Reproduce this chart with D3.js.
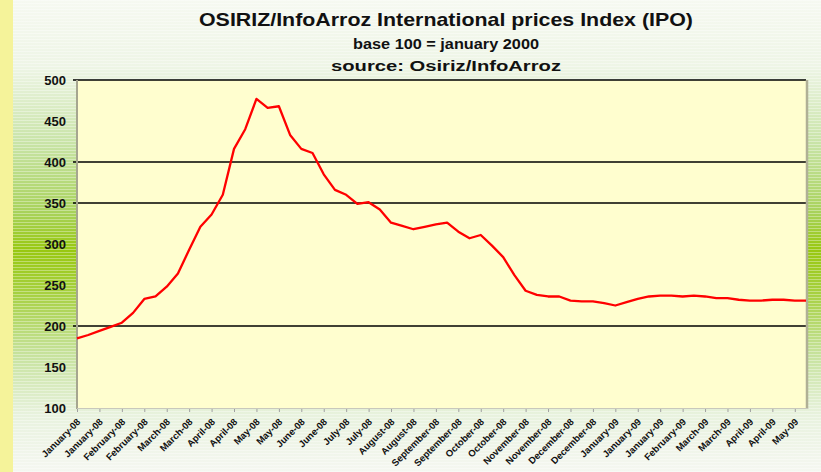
<!DOCTYPE html>
<html>
<head>
<meta charset="utf-8">
<script src="https://cdnjs.cloudflare.com/ajax/libs/d3/7.8.5/d3.min.js"></script>
<style>
  html, body { margin: 0; padding: 0; background: #fff; }
  svg { display: block; font-family: Arial, "Liberation Sans", sans-serif; }
</style>
</head>
<body>
<svg id="chart" width="821" height="472"></svg>
<script>
// one label every 2 weekly points
var tickLabels = [
  'January-08', 'January-08', 'February-08', 'February-08', 'March-08', 'March-08',
  'April-08', 'April-08', 'May-08', 'May-08', 'June-08', 'June-08',
  'July-08', 'July-08', 'August-08', 'August-08', 'September-08', 'September-08',
  'October-08', 'October-08', 'November-08', 'November-08', 'December-08', 'December-08',
  'January-09', 'January-09', 'January-09', 'February-09', 'March-09', 'March-09',
  'April-09', 'April-09', 'May-09'
];

// weekly IPO index (base 100 = january 2000)
var ipoValues = [
  185, 189, 194, 199, 204, 216, 233, 236, 248, 264,
  293, 321, 336, 360, 416, 440, 477, 466, 468, 433,
  416, 411, 385, 366, 360, 349, 351, 342, 326, 322,
  318, 321, 324, 326, 315, 307, 311, 298, 284, 262,
  243, 238, 236, 236, 231, 230, 230, 228, 225, 229,
  233, 236, 237, 237, 236, 237, 236, 234, 234, 232,
  231, 231, 232, 232, 231, 231
];

var yTicks = [100, 150, 200, 250, 300, 350, 400, 450, 500];
var gridValues = [200, 350, 400, 500];

var titleLines = [
  'OSIRIZ/InfoArroz International prices Index (IPO)',
  'base 100 = january 2000',
  'source: Osiriz/InfoArroz'
];

var ipochart = (function (d3, window, document, undefined) {

  var chart = {

    width: 821,
    height: 472,
    plot: { left: 77, right: 806, top: 80, bottom: 408 },
    svg: null,
    x: null,
    y: null,

    init: function() {
      this.svg = d3.select('#chart');
      this.x = d3.scaleLinear()
        .domain([0, ipoValues.length - 1])
        .range([this.plot.left, this.plot.right]);
      this.y = d3.scaleLinear()
        .domain([100, 500])
        .range([this.plot.bottom, this.plot.top]);

      this.drawBackground()
          .drawTitles()
          .drawPlot()
          .drawAxes()
          .drawLine();
    },

    drawBackground: function() {
      var defs = this.svg.append('defs');
      var grad = defs.append('linearGradient')
        .attr('id', 'bg-grad')
        .attr('x1', 0).attr('y1', 0).attr('x2', 0).attr('y2', 1);
      [
        [0, '#f6f9f1'], [0.14, '#eef5e6'], [0.3, '#c9e4a8'], [0.45, '#a8d25a'],
        [0.53, '#98c810'], [0.62, '#a6d040'], [0.75, '#c6e29c'], [0.88, '#e8f2de'], [1, '#f5f7f1']
      ].forEach(function(s) {
        grad.append('stop').attr('offset', s[0]).attr('stop-color', s[1]);
      });

      var pat = defs.append('pattern')
        .attr('id', 'stripes')
        .attr('width', 6).attr('height', 3)
        .attr('patternUnits', 'userSpaceOnUse');
      pat.append('rect')
        .attr('width', 6).attr('height', 1)
        .attr('fill', '#ffffff').attr('opacity', 0.35);

      this.svg.append('rect')
        .attr('width', this.width).attr('height', this.height)
        .attr('fill', 'url(#bg-grad)');
      this.svg.append('rect')
        .attr('width', this.width).attr('height', this.height)
        .attr('fill', 'url(#stripes)');
      // yellow strip on the left edge
      this.svg.append('rect')
        .attr('width', 13).attr('height', this.height)
        .attr('fill', '#f5f39a');
      return this;
    },

    drawTitles: function() {
      var specs = [
        { y: 26, size: 19, len: 494 },
        { y: 49, size: 14, len: 186 },
        { y: 71, size: 14, len: 230 }
      ];
      this.svg.append('g').attr('class', 'titles')
        .selectAll('text')
        .data(titleLines)
        .join('text')
          .attr('x', 446)
          .attr('y', function(d, i) { return specs[i].y; })
          .attr('text-anchor', 'middle')
          .attr('font-weight', 'bold')
          .attr('font-size', function(d, i) { return specs[i].size; })
          .attr('textLength', function(d, i) { return specs[i].len; })
          .attr('lengthAdjust', 'spacingAndGlyphs')
          .attr('fill', '#111')
          .text(function(d) { return d; });
      return this;
    },

    drawPlot: function() {
      var p = this.plot, y = this.y;
      this.svg.append('rect')
        .attr('x', p.left).attr('y', p.top)
        .attr('width', p.right - p.left).attr('height', p.bottom - p.top)
        .attr('fill', '#fffecf');

      this.svg.append('g').attr('class', 'grid')
        .selectAll('line')
        .data(gridValues)
        .join('line')
          .attr('x1', p.left - 4).attr('x2', p.right)
          .attr('y1', function(d) { return y(d); })
          .attr('y2', function(d) { return y(d); })
          .attr('stroke', '#000')
          .attr('stroke-width', 1.6);
      return this;
    },

    drawAxes: function() {
      var p = this.plot, x = this.x;

      var yAxis = d3.axisLeft(this.y)
        .tickValues(yTicks)
        .tickSize(0)
        .tickPadding(11)
        .tickFormat(d3.format('d'));
      var gy = this.svg.append('g')
        .attr('transform', 'translate(' + p.left + ',0)')
        .call(yAxis);
      gy.select('.domain').remove();
      gy.selectAll('text')
        .attr('font-size', 13)
        .attr('font-weight', 'bold')
        .attr('font-family', 'Arial, "Liberation Sans", sans-serif')
        .attr('fill', '#111');

      // plot borders
      this.svg.append('line')
        .attr('x1', p.left).attr('x2', p.left)
        .attr('y1', p.top).attr('y2', p.bottom + 1)
        .attr('stroke', '#a6a690').attr('stroke-width', 2);
      this.svg.append('line')
        .attr('x1', p.right + 1).attr('x2', p.right + 1)
        .attr('y1', p.top).attr('y2', p.bottom + 1)
        .attr('stroke', '#b0b096').attr('stroke-width', 2.5);
      this.svg.append('line')
        .attr('x1', p.left).attr('x2', p.right + 2)
        .attr('y1', p.bottom + 0.5).attr('y2', p.bottom + 0.5)
        .attr('stroke', '#c8c8bc').attr('stroke-width', 1);

      // category axis: one label every 2 points
      var tickIdx = tickLabels.map(function(d, i) { return i * 2; });
      var xAxis = d3.axisBottom(x)
        .tickValues(tickIdx)
        .tickSize(3)
        .tickFormat(function(d) { return tickLabels[d / 2]; });
      var gx = this.svg.append('g')
        .attr('transform', 'translate(0,' + (p.bottom + 1) + ')')
        .call(xAxis);
      gx.select('.domain').remove();
      gx.selectAll('.tick line').attr('stroke', '#a0a0a0');
      gx.selectAll('text')
        .attr('font-size', 9.5)
        .attr('font-weight', 'bold')
        .attr('font-family', 'Arial, "Liberation Sans", sans-serif')
        .attr('fill', '#111')
        .attr('text-anchor', 'end')
        .attr('dy', '0.35em')
        .attr('transform', 'translate(-3,7) rotate(-45)')
        .attr('y', 6).attr('x', 0);
      return this;
    },

    drawLine: function() {
      var x = this.x, y = this.y;
      var line = d3.line()
        .x(function(d, i) { return x(i); })
        .y(function(d) { return y(d); });
      this.svg.append('path')
        .datum(ipoValues)
        .attr('d', line)
        .attr('fill', 'none')
        .attr('stroke', '#ff0000')
        .attr('stroke-width', 2.3)
        .attr('stroke-linejoin', 'round');
      return this;
    }
  };

  return chart;
})(d3, this, this.document);

ipochart.init();
</script>
</body>
</html>
